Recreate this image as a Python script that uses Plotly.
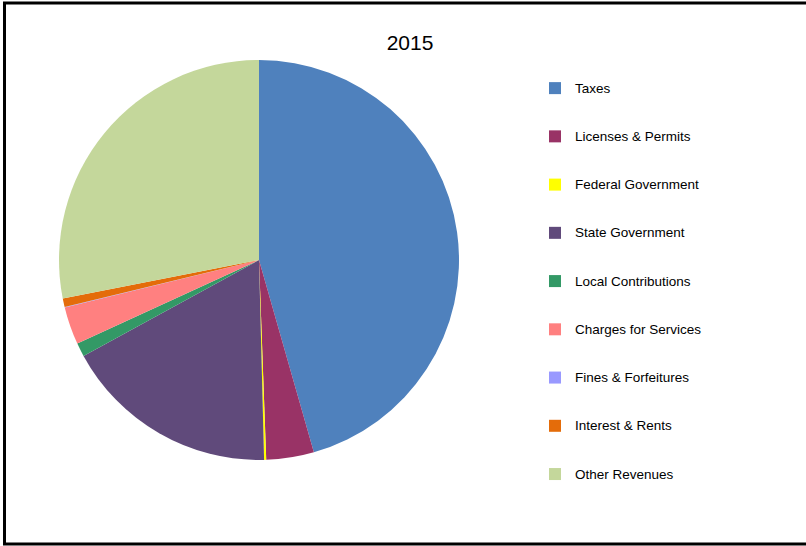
import plotly.graph_objects as go

categories = ["Taxes", "Licenses & Permits", "Federal Government", "State Government",
              "Local Contributions", "Charges for Services", "Fines & Forfeitures",
              "Interest & Rents", "Other Revenues"]
shares = [45.6, 3.85, 0.17, 17.45, 1.1, 3.05, 0.03, 0.7, 28.1]
colors = ["#4F81BD", "#993366", "#FFFF00", "#604A7B", "#339966",
          "#FF8080", "#9999FF", "#E46C0A", "#C4D79B"]
title_text = "2015"

W, H = 806, 546
legend_labels = [" <br><span style='font-size:13.5px'>%s</span><br> " % c for c in categories]

fig = go.Figure(go.Pie(
    labels=legend_labels,
    values=shares,
    sort=False,
    direction="clockwise",
    rotation=0,
    textinfo="none",
    hoverinfo="percent",
    marker=dict(colors=colors, line=dict(width=0)),
    domain=dict(x=[59 / W, 459 / W], y=[1 - 460 / H, 1 - 60 / H]),
))

fig.update_layout(
    width=W, height=H,
    margin=dict(l=0, r=0, t=0, b=0),
    paper_bgcolor="white",
    font=dict(family="Liberation Sans, Arial, sans-serif", color="#000000"),
    title=dict(text=title_text, x=410 / W, xanchor="center", y=1 - 43 / H, yanchor="middle",
               yref="container", font=dict(size=21, color="#000000")),
    showlegend=True,
    legend=dict(x=535 / W, xanchor="left", y=1 - 59 / H, yanchor="top",
                font=dict(size=11.6, color="#000000"), bgcolor="rgba(0,0,0,0)",
                borderwidth=0, traceorder="normal", valign="middle"),
    shapes=[dict(type="path", xref="paper", yref="paper",
                 path="M 1.05,%f L %f,%f L %f,%f L 1.05,%f" % (1 - 3 / H, 4.5 / W, 1 - 3 / H,
                                                             4.5 / W, 1 - 544 / H, 1 - 544 / H),
                 line=dict(color="black", width=3))],
)

fig.write_html("out.html", config={"displayModeBar": False},
               post_script="document.body.style.margin='0';")
